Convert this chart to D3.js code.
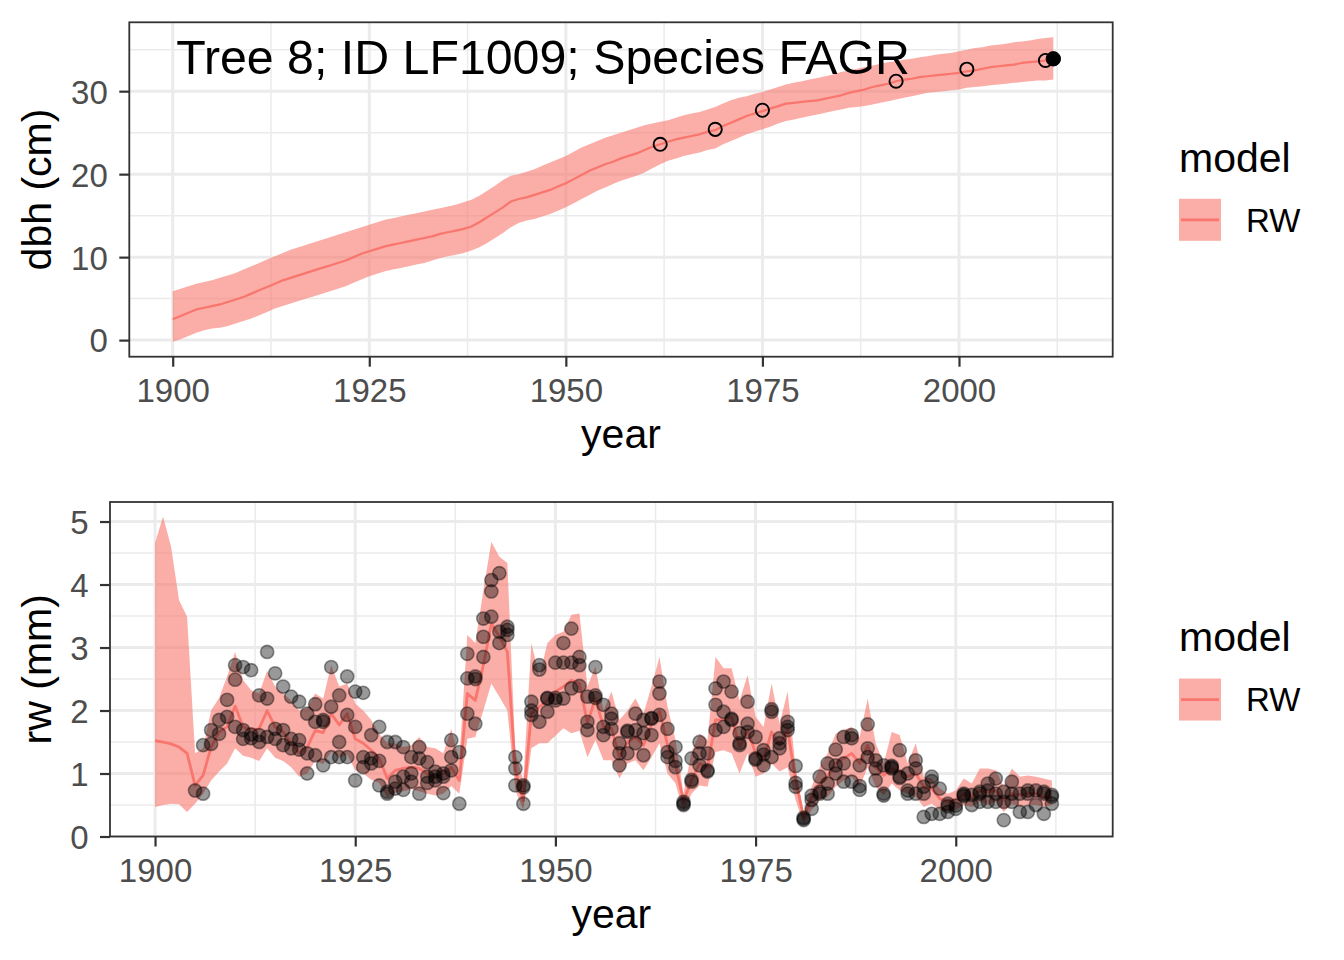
<!DOCTYPE html>
<html>
<head>
<meta charset="utf-8">
<script src="https://cdn.jsdelivr.net/npm/d3@7"></script>
<style>
  html, body { margin: 0; padding: 0; background: #ffffff; }
  svg { display: block; font-family: "Liberation Sans", Arial, Helvetica, sans-serif; }
</style>
</head>
<body>
<svg id="chart" width="1344" height="960"></svg>
<script>
// ---------------- DATA ----------------
const chartTitle = "Tree 8; ID LF1009; Species FAGR";
const modelName = "RW";
const xTicks = [1900, 1925, 1950, 1975, 2000];
const dbhTicks = [0, 10, 20, 30];
const rwTicks = [0, 1, 2, 3, 4, 5];

const years = d3.range(1900, 2013);          // 1900 .. 2012

// dbh (cm) model median and 95% band
const dbhMed = [
  2.5, 2.9, 3.3, 3.7, 3.9, 4.1, 4.3, 4.6, 4.9, 5.2,
  5.6, 6.0, 6.4, 6.8, 7.2, 7.5, 7.8, 8.1, 8.4, 8.7,
  9.0, 9.3, 9.6, 10.0, 10.4, 10.7, 11.0, 11.3, 11.5, 11.7,
  11.9, 12.1, 12.3, 12.5, 12.8, 13.0, 13.2, 13.4, 13.7, 14.2,
  14.8, 15.4, 16.0, 16.7, 17.0, 17.2, 17.5, 17.8, 18.1, 18.5,
  18.9, 19.4, 19.9, 20.4, 20.8, 21.2, 21.5, 21.9, 22.2, 22.5,
  22.9, 23.3, 23.6, 23.9, 24.2, 24.4, 24.6, 24.8, 25.1, 25.3,
  25.8, 26.2, 26.6, 27.0, 27.3, 27.6, 27.9, 28.2, 28.5, 28.6,
  28.7, 28.8, 28.9, 29.1, 29.3, 29.5, 29.8, 30.0, 30.2, 30.5,
  30.7, 30.9, 31.2, 31.4, 31.5, 31.7, 31.8, 31.9, 32.0, 32.1,
  32.2, 32.4, 32.5, 32.7, 32.9, 33.0, 33.1, 33.2, 33.4, 33.5,
  33.6, 33.7, 33.9
];
const dbhUp = [
  5.9, 6.2, 6.5, 6.8, 7.0, 7.2, 7.5, 7.8, 8.1, 8.5,
  8.9, 9.3, 9.7, 10.1, 10.5, 10.9, 11.2, 11.5, 11.8, 12.1,
  12.4, 12.7, 13.0, 13.3, 13.6, 13.9, 14.2, 14.5, 14.7, 14.9,
  15.1, 15.3, 15.5, 15.7, 15.9, 16.1, 16.3, 16.6, 16.9, 17.4,
  18.0, 18.6, 19.3, 19.8, 20.0, 20.3, 20.6, 21.0, 21.4, 21.8,
  22.2, 22.7, 23.2, 23.6, 24.0, 24.4, 24.7, 25.0, 25.3, 25.6,
  25.9, 26.1, 26.3, 26.5, 26.8, 27.1, 27.3, 27.5, 27.8, 28.1,
  28.5, 28.9, 29.2, 29.4, 29.7, 29.9, 30.2, 30.5, 30.8, 31.0,
  31.2, 31.4, 31.6, 31.8, 32.0, 32.3, 32.5, 32.7, 32.9, 33.1,
  33.3, 33.5, 33.6, 33.8, 33.9, 34.1, 34.2, 34.4, 34.5, 34.6,
  34.8, 35.0, 35.2, 35.3, 35.5, 35.6, 35.7, 35.9, 36.0, 36.1,
  36.3, 36.4, 36.5
];
const dbhLo = [
  -0.2, 0.1, 0.5, 0.9, 1.2, 1.4, 1.5, 1.7, 2.0, 2.3,
  2.6, 3.0, 3.4, 3.8, 4.1, 4.4, 4.7, 5.0, 5.3, 5.6,
  5.9, 6.2, 6.5, 6.9, 7.3, 7.7, 8.0, 8.3, 8.5, 8.7,
  8.9, 9.1, 9.3, 9.6, 9.9, 10.1, 10.3, 10.5, 10.8, 11.2,
  11.7, 12.3, 12.9, 13.6, 14.1, 14.4, 14.6, 14.9, 15.2, 15.6,
  16.0, 16.5, 17.0, 17.5, 18.0, 18.4, 18.8, 19.2, 19.5, 19.8,
  20.2, 20.7, 21.2, 21.6, 21.9, 22.2, 22.4, 22.6, 22.9, 23.1,
  23.6, 24.0, 24.4, 24.8, 25.1, 25.4, 25.7, 26.1, 26.4, 26.6,
  26.8, 27.0, 27.2, 27.4, 27.6, 27.8, 28.0, 28.1, 28.2, 28.4,
  28.6, 28.8, 29.0, 29.2, 29.4, 29.6, 29.8, 29.9, 30.0, 30.1,
  30.2, 30.4, 30.5, 30.6, 30.7, 30.8, 30.9, 31.0, 31.1, 31.2,
  31.3, 31.3, 31.4
];
// measured dbh (open) and last census (filled)
const dbhObsYears = [1962, 1969, 1975, 1992, 2001, 2011];
const dbhObs = [23.6, 25.4, 27.7, 31.2, 32.65, 33.7];
const dbhLastYear = [2012];
const dbhLast = [33.9];

// ring width (mm) model median and band
const rwMed = [
  1.52, 1.50, 1.47, 1.42, 1.32, 0.81, 0.97, 1.42, 1.66, 1.74,
  2.07, 1.74, 1.69, 1.71, 2.00, 1.74, 1.66, 1.48, 1.32, 1.42,
  1.68, 1.65, 1.95, 1.77, 1.95, 1.55, 1.48, 1.37, 1.24, 0.92,
  1.05, 1.08, 1.10, 1.08, 1.00, 0.95, 1.00, 1.10, 0.89, 2.27,
  2.16, 2.72, 3.38, 3.17, 2.93, 1.05, 0.57, 1.95, 2.06, 2.16,
  2.30, 2.38, 2.48, 2.43, 1.80, 2.19, 1.74, 1.72, 1.25, 1.50,
  1.58, 1.45, 1.78, 2.00, 1.45, 1.14, 0.56, 0.89, 1.16, 1.10,
  1.85, 1.85, 1.90, 1.42, 1.69, 1.32, 1.24, 1.66, 1.45, 1.69,
  0.90, 0.30, 0.62, 0.84, 0.95, 1.16, 1.24, 1.32, 1.16, 1.45,
  1.10, 0.97, 1.08, 1.03, 0.95, 1.00, 0.79, 0.76, 0.60, 0.55,
  0.58, 0.68, 0.63, 0.73, 0.71, 0.73, 0.58, 0.68, 0.66, 0.68,
  0.68, 0.63, 0.63
];
const rwUp = [
  4.66, 5.08, 4.60, 3.75, 3.49, 1.32, 1.40, 2.00, 2.20, 2.54,
  2.93, 2.48, 2.32, 2.27, 2.63, 2.38, 2.27, 2.16, 2.00, 2.04,
  2.27, 2.19, 2.72, 2.38, 2.43, 2.11, 2.00, 1.85, 1.63, 1.48,
  1.48, 1.42, 1.45, 1.58, 1.42, 1.40, 1.32, 1.71, 1.20, 3.20,
  3.07, 3.90, 4.68, 4.44, 4.34, 1.32, 0.89, 3.07, 2.54, 3.07,
  3.20, 3.25, 3.52, 3.54, 2.38, 2.70, 2.00, 2.30, 1.85, 2.00,
  2.19, 1.95, 2.38, 2.85, 2.06, 1.53, 0.68, 1.34, 1.63, 1.53,
  2.85, 2.67, 2.67, 2.16, 2.56, 1.90, 1.74, 2.43, 1.79, 2.30,
  1.10, 0.36, 0.79, 1.10, 1.32, 1.63, 1.69, 1.74, 1.58, 2.19,
  1.48, 1.16, 1.66, 1.61, 1.16, 1.48, 0.95, 0.92, 0.76, 0.68,
  0.73, 0.92, 0.84, 1.08, 1.08, 1.05, 0.79, 1.08, 0.95, 0.97,
  0.95, 0.92, 0.89
];
const rwLo = [
  0.47, 0.50, 0.52, 0.51, 0.39, 0.52, 0.68, 0.89, 1.03, 1.16,
  1.40, 1.28, 1.25, 1.20, 1.40, 1.25, 1.20, 1.10, 0.95, 1.00,
  1.20, 1.15, 1.35, 1.25, 1.30, 1.05, 1.00, 0.90, 0.85, 0.62,
  0.70, 0.72, 0.75, 0.72, 0.68, 0.65, 0.68, 0.80, 0.68, 1.55,
  1.58, 2.00, 2.43, 2.22, 2.00, 0.73, 0.42, 1.40, 1.48, 1.48,
  1.60, 1.72, 1.64, 1.68, 1.26, 1.53, 1.21, 1.21, 0.92, 1.16,
  1.21, 1.05, 1.26, 1.48, 1.00, 0.84, 0.39, 0.68, 0.81, 0.79,
  1.34, 1.37, 1.32, 1.00, 1.32, 0.95, 1.00, 1.16, 1.03, 1.10,
  0.58, 0.20, 0.42, 0.58, 0.63, 0.79, 0.89, 0.95, 0.79, 1.10,
  0.79, 0.65, 0.84, 0.73, 0.68, 0.63, 0.47, 0.52, 0.42, 0.39,
  0.42, 0.50, 0.47, 0.55, 0.50, 0.55, 0.39, 0.52, 0.47, 0.50,
  0.50, 0.47, 0.50
];

// measured ring widths, three cores, years 1905 .. 2012
const coreYears = d3.range(1905, 2013);
const coreA = [
  0.73, 0.68, 1.47, 1.85, 1.90,
  2.72, 2.69, 2.64, 2.24, 2.93, 2.59, 2.38, 2.22, 2.14, 1.95,
  2.10, 1.82, 2.69, 2.24, 2.54, 2.30, 2.28, 1.61, 1.74, 1.50,
  1.50, 1.42, 1.26, 1.42, 1.18, 1.03, 0.95, 1.53, 0.52, 2.90,
  2.54, 3.46, 4.07, 4.18, 3.33, 1.26, 0.81, 2.14, 2.72, 2.19,
  2.76, 3.07, 3.30, 2.85, 1.82, 2.69, 2.09, 1.95, 1.48, 1.66,
  1.95, 1.85, 1.87, 2.46, 1.71, 1.42, 0.52, 1.24, 1.50, 1.05,
  2.35, 2.46, 2.30, 1.48, 2.14, 1.24, 1.37, 2.02, 1.56, 1.82,
  1.12, 0.28, 0.65, 0.95, 1.16, 1.38, 1.58, 1.61, 1.13, 1.78,
  1.21, 1.13, 1.10, 1.37, 1.00, 1.21, 0.79, 0.95, 0.76, 0.52,
  0.44, 0.68, 0.66, 0.71, 0.73, 0.92, 0.26, 0.87, 0.68, 0.73,
  0.73, 0.71, 0.66
];
const coreB = [
  null, 1.45, 1.69, 1.63, 2.17,
  2.49, 1.69, 1.56, 1.61, 2.19, 1.71, 1.69, 1.40, 1.53, 1.00,
  1.29, 1.13, 2.06, 1.50, 1.93, 1.74, 1.26, 1.24, 0.81, 0.71,
  0.87, 0.95, 0.87, 1.24, 0.95, 0.89, 0.69, 1.05, 1.34, 2.51,
  1.79, 3.17, 3.89, 3.25, 3.20, 1.08, 0.52, 1.93, 2.65, 1.98,
  2.16, 2.76, 2.76, 2.72, 1.69, 2.24, 1.74, 1.87, 1.32, 1.32,
  1.69, 1.64, 1.61, 2.27, 1.26, 1.10, 0.50, 0.87, 1.13, 1.03,
  2.09, 1.98, 1.87, 1.64, 1.79, 1.58, 1.13, 1.98, 1.40, 1.74,
  0.85, 0.26, 0.44, 0.71, 0.84, 1.13, 1.16, 1.56, 0.74, 1.40,
  0.89, 0.65, 1.12, 0.93, 0.73, 1.08, 0.31, 0.36, 0.36, 0.39,
  0.49, 0.66, 0.50, 0.55, 0.55, 0.68, 0.71, 0.68, 0.39, 0.39,
  0.50, 0.36, 0.52
];
const coreC = [
  null, null, null, null, null,
  1.74, 1.55, 1.62, 1.50, 1.58, 1.55, 1.45, 1.55, 1.38, 1.32,
  1.82, 1.85, 1.26, 1.26, 1.26, 0.89, 1.10, 1.16, 1.20, 0.68,
  0.76, 0.74, 1.00, 0.68, 0.85, 0.95, 1.00, 1.26, null, 1.95,
  2.50, 2.85, 3.49, 3.07, 3.28, 0.81, 0.78, 2.00, 1.82, 2.20,
  2.20, 2.19, 2.35, 2.39, 2.22, 2.20, 1.61, 1.71, 1.13, 1.68,
  1.48, 1.29, 1.88, 1.93, 1.34, 1.20, 0.55, 0.90, 1.32, 1.32,
  1.69, 1.74, 1.85, 1.45, 1.66, 1.22, 1.30, 1.26, 1.48, 1.69,
  0.79, 0.30, 0.58, 0.68, 0.68, 1.00, 0.87, 0.87, 0.80, 1.26,
  1.08, 0.68, 1.08, 0.95, 0.68, 0.68, 0.68, 0.88, null, 0.48,
  null, 0.64, null, 0.68, 0.84, 0.55, 0.55, 0.55, null, 0.68,
  null, 0.68, 0.63
];

// ---------------- DRAWING ----------------
const RIBBON = "#F8766D";
const svg = d3.select("#chart");
svg.append("rect").attr("width", 1344).attr("height", 960).attr("fill", "#ffffff");

const FONT_TICK = 33, FONT_TITLE = 41;

function drawPanel(opts) {
  const { left, right, top, bottom, xDomain, yDomain, yTicks, yMinor, yLabel,
          med, up, lo, lineW } = opts;
  const x = d3.scaleLinear().domain(xDomain).range([left, right]);
  const y = d3.scaleLinear().domain(yDomain).range([bottom, top]);
  const g = svg.append("g");

  // minor grid
  const xMinor = xTicks.map(t => t + 12.5).filter(t => t < xDomain[1]);
  g.selectAll(null).data(xMinor).enter().append("line")
    .attr("x1", d => x(d)).attr("x2", d => x(d)).attr("y1", top).attr("y2", bottom)
    .attr("stroke", "#EBEBEB").attr("stroke-width", 1.5);
  g.selectAll(null).data(yMinor).enter().append("line")
    .attr("x1", left).attr("x2", right).attr("y1", d => y(d)).attr("y2", d => y(d))
    .attr("stroke", "#EBEBEB").attr("stroke-width", 1.5);
  // major grid
  g.selectAll(null).data(xTicks).enter().append("line")
    .attr("x1", d => x(d)).attr("x2", d => x(d)).attr("y1", top).attr("y2", bottom)
    .attr("stroke", "#EBEBEB").attr("stroke-width", 3);
  g.selectAll(null).data(yTicks).enter().append("line")
    .attr("x1", left).attr("x2", right).attr("y1", d => y(d)).attr("y2", d => y(d))
    .attr("stroke", "#EBEBEB").attr("stroke-width", 3);

  // ribbon + line
  const idx = years.map((yr, i) => i);
  const area = d3.area().x(i => x(years[i])).y0(i => y(lo[i])).y1(i => y(up[i]));
  g.append("path").datum(idx).attr("d", area)
    .attr("fill", RIBBON).attr("fill-opacity", 0.6).attr("stroke", "none");
  const line = d3.line().x(i => x(years[i])).y(i => y(med[i]));
  g.append("path").datum(idx).attr("d", line)
    .attr("fill", "none").attr("stroke", RIBBON).attr("stroke-width", lineW)
    .attr("stroke-linejoin", "round");

  opts.drawPoints(g, x, y);

  // border
  g.append("rect").attr("x", left).attr("y", top)
    .attr("width", right - left).attr("height", bottom - top)
    .attr("fill", "none").attr("stroke", "#333333").attr("stroke-width", 1.8);

  // x axis ticks & labels
  const xAxis = d3.axisBottom(x).tickValues(xTicks).tickSize(10).tickPadding(12)
    .tickFormat(d3.format("d"));
  const gx = svg.append("g").attr("transform", `translate(0,${bottom})`).call(xAxis);
  gx.select(".domain").remove();
  gx.selectAll(".tick line").attr("stroke", "#333333").attr("stroke-width", 2.2);
  gx.selectAll(".tick text").attr("fill", "#4D4D4D")
    .style("font-size", FONT_TICK + "px").style("font-family", "Liberation Sans, Arial, sans-serif")
    .attr("dy", null).attr("y", 45.6);

  // y axis ticks & labels
  const yAxis = d3.axisLeft(y).tickValues(yTicks).tickSize(10).tickPadding(11)
    .tickFormat(d3.format("d"));
  const gy = svg.append("g").attr("transform", `translate(${left},0)`).call(yAxis);
  gy.select(".domain").remove();
  gy.selectAll(".tick line").attr("stroke", "#333333").attr("stroke-width", 2.2);
  gy.selectAll(".tick text").attr("fill", "#4D4D4D")
    .style("font-size", FONT_TICK + "px").style("font-family", "Liberation Sans, Arial, sans-serif")
    .attr("x", -21.5).attr("dy", "0.36em");

  // axis titles
  svg.append("text").attr("x", (left + right) / 2).attr("y", bottom + 91)
    .attr("text-anchor", "middle").attr("fill", "#000")
    .style("font-size", FONT_TITLE + "px").text("year");
  const cy = (top + bottom) / 2;
  svg.append("text").attr("transform", `translate(51,${cy}) rotate(-90)`)
    .attr("text-anchor", "middle").attr("fill", "#000")
    .style("font-size", FONT_TITLE + "px").text(yLabel);

  // legend
  const lg = svg.append("g");
  lg.append("text").attr("x", 1179).attr("y", cy - 17.8).attr("fill", "#000")
    .style("font-size", FONT_TITLE + "px").text("model");
  lg.append("rect").attr("x", 1179).attr("y", cy + 9.3).attr("width", 42).attr("height", 42)
    .attr("fill", RIBBON).attr("fill-opacity", 0.6);
  lg.append("line").attr("x1", 1181).attr("x2", 1219).attr("y1", cy + 30.3).attr("y2", cy + 30.3)
    .attr("stroke", RIBBON).attr("stroke-width", 2.8);
  lg.append("text").attr("x", 1246).attr("y", cy + 42.2).attr("fill", "#000")
    .style("font-size", FONT_TICK + "px").text(modelName);

  return { x, y, g };
}

// ---- top panel: dbh ----
const dbhPanel = drawPanel({
  left: 129.3, right: 1112.7, top: 22.3, bottom: 356.7,
  xDomain: [1894.48, 2019.55], yDomain: [-2.0, 38.3],
  yTicks: dbhTicks, yMinor: [5, 15, 25, 35], yLabel: "dbh (cm)",
  med: dbhMed, up: dbhUp, lo: dbhLo, lineW: 2.2,
  drawPoints: (g, x, y) => {
    g.selectAll(null).data(dbhObsYears).enter().append("circle")
      .attr("cx", d => x(d)).attr("cy", (d, i) => y(dbhObs[i])).attr("r", 6.6)
      .attr("fill", "none").attr("stroke", "#000").attr("stroke-width", 1.9);
    g.selectAll(null).data(dbhLastYear).enter().append("circle")
      .attr("cx", d => x(d)).attr("cy", (d, i) => y(dbhLast[i])).attr("r", 7.2)
      .attr("fill", "#000").attr("stroke", "#000").attr("stroke-width", 1);
  }
});
svg.append("text").attr("x", dbhPanel.x(1900) + 3.5).attr("y", dbhPanel.y(32.1))
  .attr("fill", "#000").style("font-size", "48.3px").text(chartTitle);

// ---- bottom panel: ring width ----
drawPanel({
  left: 110, right: 1112.7, top: 502, bottom: 836.5,
  xDomain: [1894.375, 2019.6], yDomain: [0, 5.31],
  yTicks: rwTicks, yMinor: [0.5, 1.5, 2.5, 3.5, 4.5], yLabel: "rw (mm)",
  med: rwMed, up: rwUp, lo: rwLo, lineW: 2.8,
  drawPoints: (g, x, y) => {
    [coreA, coreB, coreC].forEach(core => {
      const pts = coreYears.map((yr, i) => [yr, core[i]]).filter(p => p[1] !== null);
      g.selectAll(null).data(pts).enter().append("circle")
        .attr("cx", p => x(p[0])).attr("cy", p => y(p[1])).attr("r", 6.6)
        .attr("fill", "#000").attr("fill-opacity", 0.4)
        .attr("stroke", "#000").attr("stroke-opacity", 0.4).attr("stroke-width", 1.6);
    });
  }
});
</script>
</body>
</html>
